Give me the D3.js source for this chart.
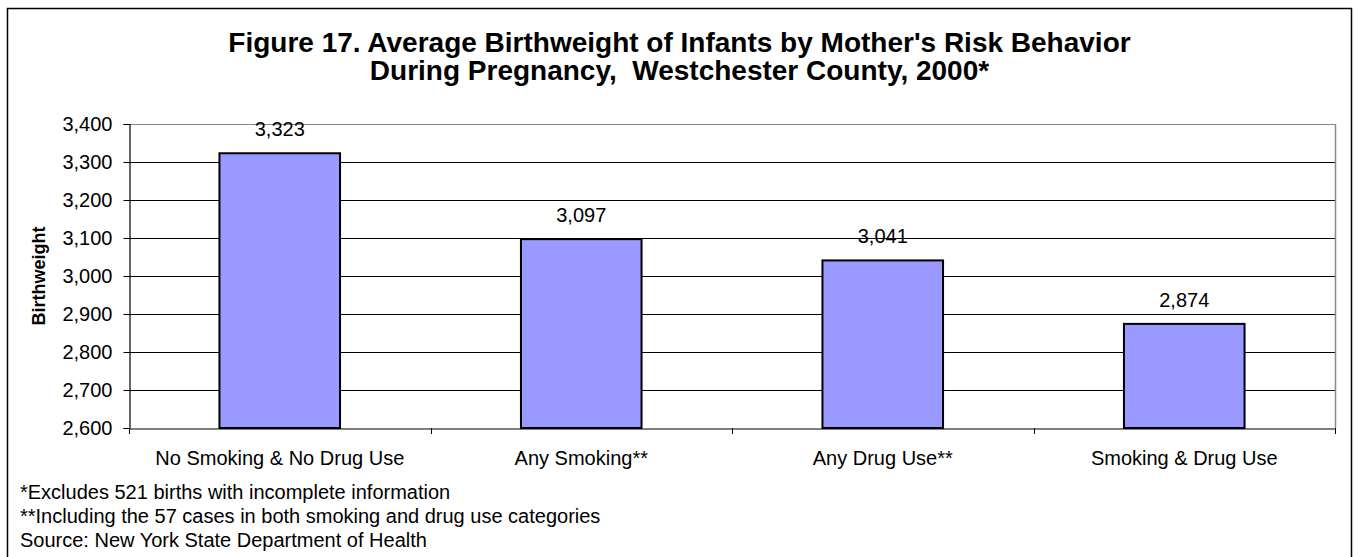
<!DOCTYPE html>
<html><head><meta charset="utf-8">
<script src="https://cdn.jsdelivr.net/npm/d3@7"></script>
<style>body{margin:0;background:#fff}svg{display:block;font-family:Arial,"Liberation Sans",sans-serif}</style>
</head><body>
<script>
const categories = ["No Smoking & No Drug Use","Any Smoking**","Any Drug Use**","Smoking & Drug Use"];
const values = [3323,3097,3041,2874];
const yTicks = [2600,2700,2800,2900,3000,3100,3200,3300,3400];
const titleLines = ["Figure 17. Average Birthweight of Infants by Mother's Risk Behavior","During Pregnancy,  Westchester County, 2000*"];
const footnotes = ["*Excludes 521 births with incomplete information","**Including the 57 cases in both smoking and drug use categories","Source: New York State Department of Health"];

const W=1359,H=557;
const FF="Arial,'Liberation Sans',sans-serif";
const svg=d3.select("body").append("svg").attr("width",W).attr("height",H);
svg.append("rect").attr("x",7.5).attr("y",8.5).attr("width",1344).attr("height",600).attr("fill","#fff").attr("stroke","#000").attr("stroke-width",1.5);

const L=129,R=1335,T=124,B=428;
const x=d3.scaleBand().domain(categories).range([L,R]).padding(0);
const y=d3.scaleLinear().domain([2600,3400]).range([B,T]);

// gridlines
svg.append("g").selectAll("line").data(yTicks.slice(1)).join("line")
  .attr("x1",L).attr("x2",R).attr("y1",d=>Math.round(y(d))+0.5).attr("y2",d=>Math.round(y(d))+0.5)
  .attr("stroke",(d)=>d===3400?"#888":"#000").attr("stroke-width",1);
// plot right border
svg.append("line").attr("x1",R+0.5).attr("x2",R+0.5).attr("y1",T).attr("y2",B).attr("stroke","#888").attr("stroke-width",1.5);

// bars
const bw=x.bandwidth()*0.4;
svg.append("g").selectAll("rect").data(values).join("rect")
  .attr("x",(d,i)=>x(categories[i])+x.bandwidth()/2-bw/2)
  .attr("y",d=>y(d)).attr("width",bw).attr("height",d=>B-y(d))
  .attr("fill","#9999ff").attr("stroke","#000").attr("stroke-width",2);

// value labels
svg.append("g").selectAll("text").data(values).join("text")
  .attr("x",(d,i)=>x(categories[i])+x.bandwidth()/2).attr("y",d=>y(d)-17)
  .attr("text-anchor","middle").attr("font-size",20).text(d=>d3.format(",")(d));

// y axis
const ya=svg.append("g").attr("transform",`translate(${L+0.5},0)`)
  .call(d3.axisLeft(y).tickValues(yTicks).tickFormat(d3.format(",")).tickSize(6).tickPadding(11));
ya.select(".domain").attr("stroke","#000").attr("stroke-width",1.2);
ya.selectAll("text").attr("font-size",20).attr("font-family",FF).attr("fill","#000");

// x axis
const xa=svg.append("g").attr("transform",`translate(0,${B+0.5})`)
  .call(d3.axisBottom(x).tickSize(0).tickPadding(22));
xa.select(".domain").attr("stroke","#000").attr("stroke-width",1.2);
xa.selectAll("text").attr("font-size",20).attr("font-family",FF).attr("fill","#000");
svg.append("g").selectAll("line").data(d3.range(categories.length+1)).join("line")
  .attr("x1",i=>Math.round(L+i*x.bandwidth())+0.5).attr("x2",i=>Math.round(L+i*x.bandwidth())+0.5)
  .attr("y1",B).attr("y2",B+6).attr("stroke","#000");

// y title
svg.append("text").attr("transform",`translate(45,${(T+B)/2}) rotate(-90)`)
  .attr("text-anchor","middle").attr("font-size",18).attr("font-weight","bold").text("Birthweight");

// title
svg.append("g").selectAll("text").data(titleLines).join("text")
  .attr("x",679.5).attr("y",(d,i)=>52+i*28).attr("text-anchor","middle")
  .attr("font-size",28).attr("font-weight","bold").style("white-space","pre").text(d=>d);

// footnotes
svg.append("g").selectAll("text").data(footnotes).join("text")
  .attr("x",20).attr("y",(d,i)=>499+i*24).attr("font-size",20).text(d=>d);
</script>
</body></html>
